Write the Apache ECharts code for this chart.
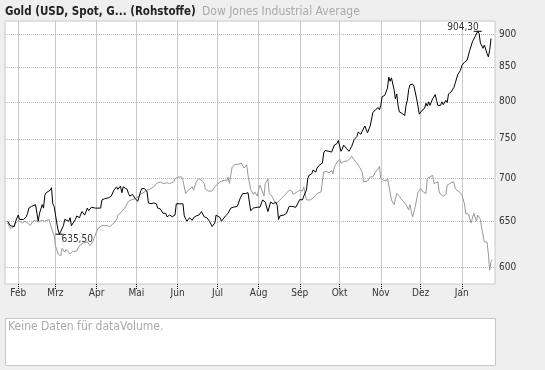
<!DOCTYPE html>
<html>
<head>
<meta charset="utf-8">
<script src="https://cdn.jsdelivr.net/npm/echarts@6/dist/echarts.min.js"></script>
<style>
html,body{margin:0;padding:0;background:#efefef;}
#chart{width:545px;height:370px;}
</style>
</head>
<body>
<div id="chart"></div>
<script>
// ---- data ----
const titleMain = 'Gold (USD, Spot, G... (Rohstoffe)';
const titleCompare = 'Dow Jones Industrial Average';
const noVolumeText = 'Keine Daten für dataVolume.';

const monthNames = ['Jan','Feb','Mrz','Apr','Mai','Jun','Jul','Aug','Sep','Okt','Nov','Dez'];
const monthTicks = ['2007-02-01','2007-03-01','2007-04-01','2007-05-01','2007-06-01','2007-07-01',
  '2007-08-01','2007-09-01','2007-10-01','2007-11-01','2007-12-01','2008-01-01'];
const yTicks = [600, 650, 700, 750, 800, 850, 900];
const xRange = ['2007-01-22', '2008-01-26'];
const yRange = [582.8, 920.6];

const goldDates = ['2007-01-24','2007-01-26','2007-01-29','2007-01-30','2007-02-01','2007-02-02','2007-02-05','2007-02-07','2007-02-08','2007-02-09',
'2007-02-11','2007-02-12','2007-02-14','2007-02-15','2007-02-16','2007-02-17','2007-02-19','2007-02-20','2007-02-21','2007-02-22',
'2007-02-25','2007-02-26','2007-02-27','2007-02-28','2007-03-02','2007-03-03','2007-03-04','2007-03-07','2007-03-08','2007-03-11',
'2007-03-12','2007-03-13','2007-03-16','2007-03-17','2007-03-19','2007-03-21','2007-03-23','2007-03-25','2007-03-26','2007-03-28',
'2007-03-31','2007-04-04','2007-04-05','2007-04-07','2007-04-10','2007-04-12','2007-04-14','2007-04-15','2007-04-16','2007-04-17',
'2007-04-19','2007-04-20','2007-04-21','2007-04-24','2007-04-25','2007-04-26','2007-04-28','2007-04-30','2007-05-02','2007-05-04',
'2007-05-05','2007-05-07','2007-05-09','2007-05-10','2007-05-12','2007-05-14','2007-05-16','2007-05-17','2007-05-19','2007-05-20',
'2007-05-21','2007-05-23','2007-05-24','2007-05-26','2007-05-28','2007-05-30','2007-05-31','2007-06-03','2007-06-05','2007-06-06',
'2007-06-08','2007-06-10','2007-06-12','2007-06-13','2007-06-15','2007-06-17','2007-06-19','2007-06-21','2007-06-23','2007-06-25',
'2007-06-27','2007-06-29','2007-06-30','2007-07-03','2007-07-04','2007-07-07','2007-07-09','2007-07-11','2007-07-13','2007-07-14',
'2007-07-16','2007-07-18','2007-07-20','2007-07-22','2007-07-24','2007-07-25','2007-07-26','2007-07-28','2007-07-31','2007-08-02',
'2007-08-04','2007-08-06','2007-08-07','2007-08-08','2007-08-10','2007-08-12','2007-08-14','2007-08-15','2007-08-16','2007-08-17',
'2007-08-20','2007-08-22','2007-08-23','2007-08-24','2007-08-26','2007-08-29','2007-08-30','2007-09-01','2007-09-03','2007-09-04',
'2007-09-06','2007-09-07','2007-09-08','2007-09-10','2007-09-11','2007-09-13','2007-09-14','2007-09-16','2007-09-18','2007-09-19',
'2007-09-20','2007-09-23','2007-09-25','2007-09-27','2007-09-29','2007-09-30','2007-10-02','2007-10-03','2007-10-04','2007-10-06',
'2007-10-08','2007-10-10','2007-10-12','2007-10-14','2007-10-15','2007-10-17','2007-10-18','2007-10-20','2007-10-22','2007-10-24',
'2007-10-26','2007-10-28','2007-10-30','2007-10-31','2007-11-01','2007-11-02','2007-11-04','2007-11-06','2007-11-07','2007-11-08',
'2007-11-09','2007-11-11','2007-11-12','2007-11-13','2007-11-14','2007-11-15','2007-11-17','2007-11-19','2007-11-20','2007-11-21',
'2007-11-22','2007-11-23','2007-11-25','2007-11-26','2007-11-28','2007-11-29','2007-11-30','2007-12-02','2007-12-04','2007-12-05',
'2007-12-06','2007-12-07','2007-12-08','2007-12-10','2007-12-12','2007-12-13','2007-12-14','2007-12-16','2007-12-17','2007-12-18',
'2007-12-20','2007-12-21','2007-12-22','2007-12-24','2007-12-26','2007-12-27','2007-12-29','2007-12-31','2008-01-01','2008-01-03',
'2008-01-05','2008-01-06','2008-01-07','2008-01-08','2008-01-09','2008-01-11','2008-01-13','2008-01-14','2008-01-15','2008-01-17',
'2008-01-18','2008-01-20','2008-01-21','2008-01-22','2008-01-23'];
const goldValues = [650,645,644,650,657,652,652,655,659,665,
667,665,669,671,650,659,669,665,680,683,
686,689,670,667,648,640,635.5,645,652,650,
654,645,652,656,654,661,657,665,662,666,
665,665,674.5,676,677,679,686,687,690,687,
691,683,690,687,682,679,681,676,673,684,
688,688,684,671,670,671,670,665,664,665,
659,659,655,657,655,657,670,670,670,656,
650,654,651,654,656,657,661,655,654,650,
644,648,657,654,650,656,659,665,666,668,
667,676,682,682,683,682,662,665,666,666,
674.5,672,673,661,672,670,672,668,652,656,
657,659,663,667,667,666,667,675,674.5,679,
686,700,704,706,710.5,708,713,717,719,732,
735,734,733,742,744,748,734,737,742,738,
734,740,749.5,753,759,756,760,767,758,767,
785,789,792,789,795,807,809,819,835,829,
834,817,804,811,795,786,784,781,795,802,
817,824,825,822,804,794,783,788,791,798,
794,800,795,804,810,802,795,795,800,796,
802,799,811,814,820,826,839,845,852,857,
860,862,875,878,888,896,904.3,901,886,878,
883,870,865,875,893];

const dowDates = ['2007-01-24','2007-01-26','2007-01-28','2007-01-30','2007-02-01','2007-02-04','2007-02-06','2007-02-08','2007-02-10','2007-02-12',
'2007-02-14','2007-02-16','2007-02-19','2007-02-21','2007-02-24','2007-02-25','2007-02-27','2007-02-28','2007-03-01','2007-03-03',
'2007-03-05','2007-03-06','2007-03-08','2007-03-09','2007-03-12','2007-03-14','2007-03-17','2007-03-19','2007-03-22','2007-03-25',
'2007-03-27','2007-03-29','2007-03-30','2007-04-02','2007-04-03','2007-04-05','2007-04-09','2007-04-11','2007-04-14','2007-04-16',
'2007-04-17','2007-04-20','2007-04-23','2007-04-25','2007-04-27','2007-04-30','2007-05-03','2007-05-05','2007-05-09','2007-05-11',
'2007-05-14','2007-05-16','2007-05-19','2007-05-21','2007-05-24','2007-05-26','2007-05-29','2007-05-30','2007-06-02','2007-06-04',
'2007-06-05','2007-06-07','2007-06-09','2007-06-10','2007-06-12','2007-06-13','2007-06-15','2007-06-17','2007-06-19','2007-06-21',
'2007-06-22','2007-06-24','2007-06-27','2007-06-29','2007-07-01','2007-07-03','2007-07-06','2007-07-08','2007-07-09','2007-07-10',
'2007-07-12','2007-07-14','2007-07-17','2007-07-18','2007-07-19','2007-07-21','2007-07-23','2007-07-24','2007-07-26','2007-07-28',
'2007-07-29','2007-07-31','2007-08-01','2007-08-02','2007-08-03','2007-08-05','2007-08-06','2007-08-08','2007-08-09','2007-08-11',
'2007-08-12','2007-08-14','2007-08-15','2007-08-17','2007-08-20','2007-08-21','2007-08-24','2007-08-26','2007-08-27','2007-08-30',
'2007-09-01','2007-09-03','2007-09-04','2007-09-05','2007-09-06','2007-09-09','2007-09-12','2007-09-14','2007-09-17','2007-09-18',
'2007-09-19','2007-09-21','2007-09-23','2007-09-25','2007-09-26','2007-09-27','2007-09-29','2007-10-01','2007-10-02','2007-10-04',
'2007-10-07','2007-10-09','2007-10-10','2007-10-12','2007-10-14','2007-10-16','2007-10-18','2007-10-19','2007-10-22','2007-10-24',
'2007-10-26','2007-10-28','2007-10-30','2007-10-31','2007-11-01','2007-11-03','2007-11-05','2007-11-06','2007-11-08','2007-11-09',
'2007-11-11','2007-11-12','2007-11-13','2007-11-15','2007-11-16','2007-11-18','2007-11-20','2007-11-21','2007-11-22','2007-11-23',
'2007-11-24','2007-11-25','2007-11-27','2007-11-29','2007-12-01','2007-12-03','2007-12-05','2007-12-06','2007-12-08','2007-12-10',
'2007-12-11','2007-12-12','2007-12-14','2007-12-15','2007-12-16','2007-12-18','2007-12-20','2007-12-21','2007-12-24','2007-12-26',
'2007-12-27','2007-12-28','2007-12-30','2008-01-01','2008-01-03','2008-01-04','2008-01-06','2008-01-07','2008-01-08','2008-01-10',
'2008-01-12','2008-01-13','2008-01-15','2008-01-16','2008-01-18','2008-01-20','2008-01-21','2008-01-22','2008-01-23','2008-01-24'];
const dowValues = [648,642,643,648,651,648,650,648,645,650,
651,649,651,650,652,652,638,634,623,614,
612,620,616,619,614,617,617,623,626,627,
623,627,631,642,640,645,645,644,648,652,
657,661,667,673,674.5,676,679,682,686,687,
690,694,696,694,695,694,696,700,702,702,
698,682,686,684,690,686,696,700,698,694,
687,685,685,690,693,696,698,697,702,694,
714,717,718,717,719,713,717,704,687,681,
684,679,687,692,688,679,694,700,682,679,
676,670,672,674.5,679,681,686,685,681,684,
686,685,690,688,674.5,674.5,678,682,684,696,
708,709,707,710,706,714,720,724,719,721,
722,725,728,723,719,714,708,696,697,702,
702,708,712,715,700,698,697,700,684,674.5,
669,668,682,679,676,673,669,670,663,669,
661,655,667,684,688,684,682,700,702,704,
694,692,696,684,681,679,681,692,695,696,
688,689,684,681,670,659,658,657,648,659,
650,657,652,642,627,627,614,597,606,608];

// ---- helpers ----
function toTime(s) { const p = s.split('-'); return new Date(+p[0], +p[1] - 1, +p[2]).getTime(); }
function zip(d, v) { return d.map((s, i) => [toTime(s), v[i]]); }
const FONT = '"DejaVu Sans Condensed", "DejaVu Sans", sans-serif';
const tickTimes = monthTicks.map(toTime);

const chart = echarts.init(document.getElementById('chart'), null, {renderer: 'canvas'});
chart.setOption({
  animation: false,
  backgroundColor: '#efefef',
  textStyle: {fontFamily: FONT},
  grid: {left: 5, top: 21, width: 490, height: 263, show: true, backgroundColor: '#fff', borderColor: '#c8c8c8', borderWidth: 1},
  xAxis: {
    type: 'value', min: toTime(xRange[0]), max: toTime(xRange[1]),
    axisLine: {show: false},
    axisTick: {show: true, customValues: tickTimes, length: 5, lineStyle: {color: '#000', type: 'dotted', width: 1}},
    axisLabel: {customValues: tickTimes, color: '#333', fontSize: 10, fontFamily: FONT, margin: 4,
      formatter: v => monthNames[new Date(v).getMonth()]},
    splitLine: {show: true, lineStyle: {color: '#c8c8c8', width: 1}}
  },
  yAxis: {
    type: 'log', logBase: 10, min: yRange[0], max: yRange[1], position: 'right',
    axisLine: {show: false}, axisTick: {show: false}, axisLabel: {show: false}, splitLine: {show: false}
  },
  series: [
    {
      name: titleCompare, type: 'line', data: zip(dowDates, dowValues), showSymbol: false, symbol: 'none', z: 2,
      lineStyle: {color: '#999', width: 1}, silent: true,
      markLine: {
        silent: true, symbol: ['none', 'none'], z: 1, animation: false,
        lineStyle: {color: '#bbb', type: 'dotted', width: 1},
        label: {show: true, position: 'end', distance: 4, color: '#333', fontSize: 10, fontFamily: FONT,
          formatter: p => String(p.value)},
        data: yTicks.map(v => ({yAxis: v}))
      }
    },
    {
      name: 'Gold', type: 'line', data: zip(goldDates, goldValues), showSymbol: false, symbol: 'none', z: 3,
      lineStyle: {color: '#000', width: 1}, silent: true,
      markPoint: {
        silent: true, symbol: 'rect', symbolSize: [8, 1], itemStyle: {color: '#000'}, animation: false,
        data: [
          {type: 'max', label: {position: 'top', align: 'right', verticalAlign: 'bottom', distance: 0, offset: [1, 2]}},
          {type: 'min', label: {position: 'bottom', align: 'left', verticalAlign: 'top', distance: 0, offset: [2, 0]}}
        ],
        label: {show: true, color: '#333', fontSize: 10, fontFamily: FONT,
          formatter: p => p.value.toFixed(2).replace('.', ',')}
      }
    }
  ],
  graphic: [
    {type: 'text', left: 5, top: 6, style: {text: titleMain, font: 'bold 11.5px ' + FONT, fill: '#222'}},
    {type: 'text', left: 202, top: 6, style: {text: titleCompare, font: '12px ' + FONT, fill: '#aaa'}},
    {type: 'rect', shape: {x: 5.5, y: 318.5, width: 490, height: 47}, style: {fill: '#fff', stroke: '#c8c8c8', lineWidth: 1}},
    {type: 'text', left: 8, top: 321, style: {text: noVolumeText, font: '12px ' + FONT, fill: '#aaa'}}
  ]
});
</script>
</body>
</html>
